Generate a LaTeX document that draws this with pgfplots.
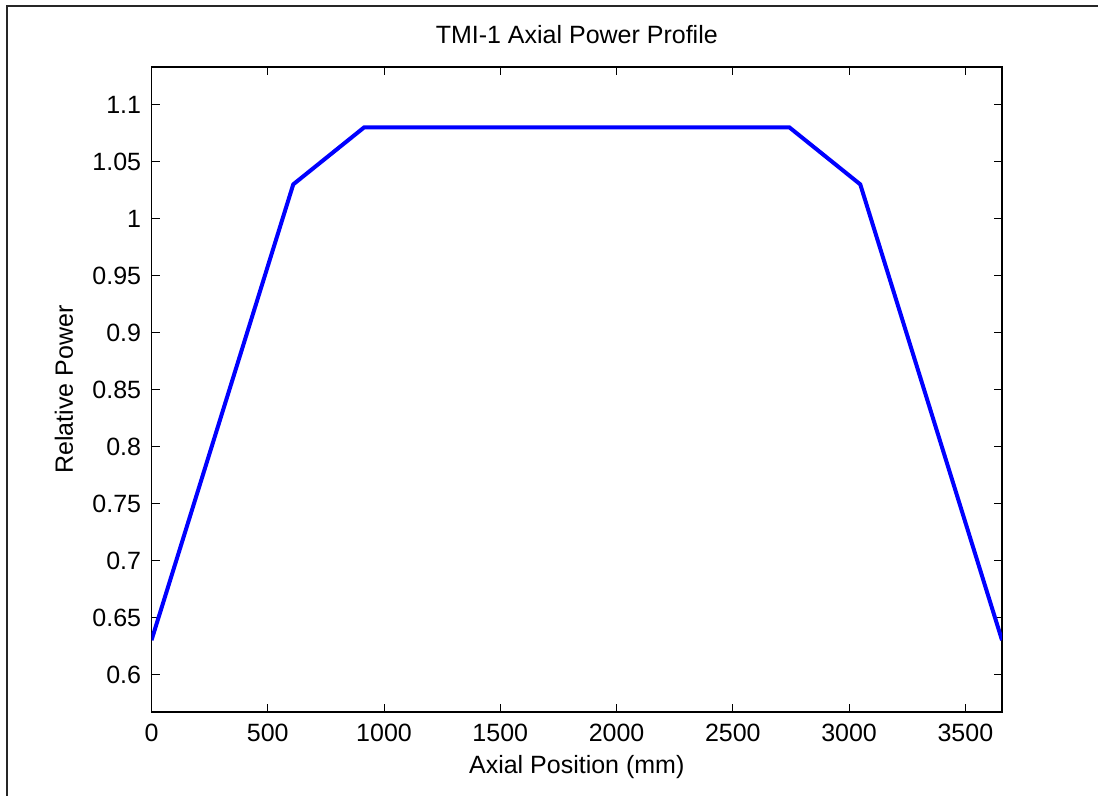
\documentclass[border=0pt]{standalone}
\usepackage{pgfplots}
\pgfplotsset{compat=1.18}
\usepackage{fontspec}
\setmainfont{Liberation Sans}

\begin{document}
\begin{tikzpicture}
  % page area and the figure's frame
  \path[use as bounding box] (0,0) rectangle (549bp,398bp);
  \draw[line width=0.9bp, black!85] (3.5bp,0) -- (3.5bp,395bp) -- (549bp,395bp);

  \begin{axis}[
    at={(75.75bp,42bp)}, anchor=south west,
    scale only axis,
    width=425.25bp, height=322.5bp,
    xmin=0, xmax=3657.6,
    ymin=0.567, ymax=1.133,
    xtick={0,500,1000,1500,2000,2500,3000,3500},
    ytick={0.6,0.65,0.7,0.75,0.8,0.85,0.9,0.95,1,1.05,1.1},
    scaled ticks=false,
    /pgf/number format/1000 sep={},
    /pgf/number format/assume math mode=true,
    tick align=inside,
    tick pos=both,
    major tick length=4bp,
    axis line style={line width=0.6bp},
    every tick/.style={line width=0.5bp, black},
    font=\fontsize{12.5bp}{15bp}\selectfont,
    xticklabel style={anchor=base, inner sep=0pt, yshift=-14.5bp},
    yticklabel style={anchor=east, inner sep=0pt, xshift=-5bp},
    every axis title shift=0pt,
    title={TMI-1 Axial Power Profile},
    title style={at={(axis description cs:0.5,1.0357)}, anchor=base, inner sep=0pt},
    xlabel={Axial Position (mm)},
    xlabel style={at={(axis description cs:0.5,-0.0946)}, anchor=base, inner sep=0pt},
    ylabel={Relative Power},
    ylabel style={at={(axis description cs:-0.1029,0.5)}, anchor=center, inner sep=0pt},
  ]
    \addplot[blue, line width=2bp, line join=miter] coordinates {
      (0,0.63) (609.6,1.03) (914.4,1.08) (2743.2,1.08) (3048,1.03) (3657.6,0.63)
    };
  \end{axis}
\end{tikzpicture}
\end{document}
